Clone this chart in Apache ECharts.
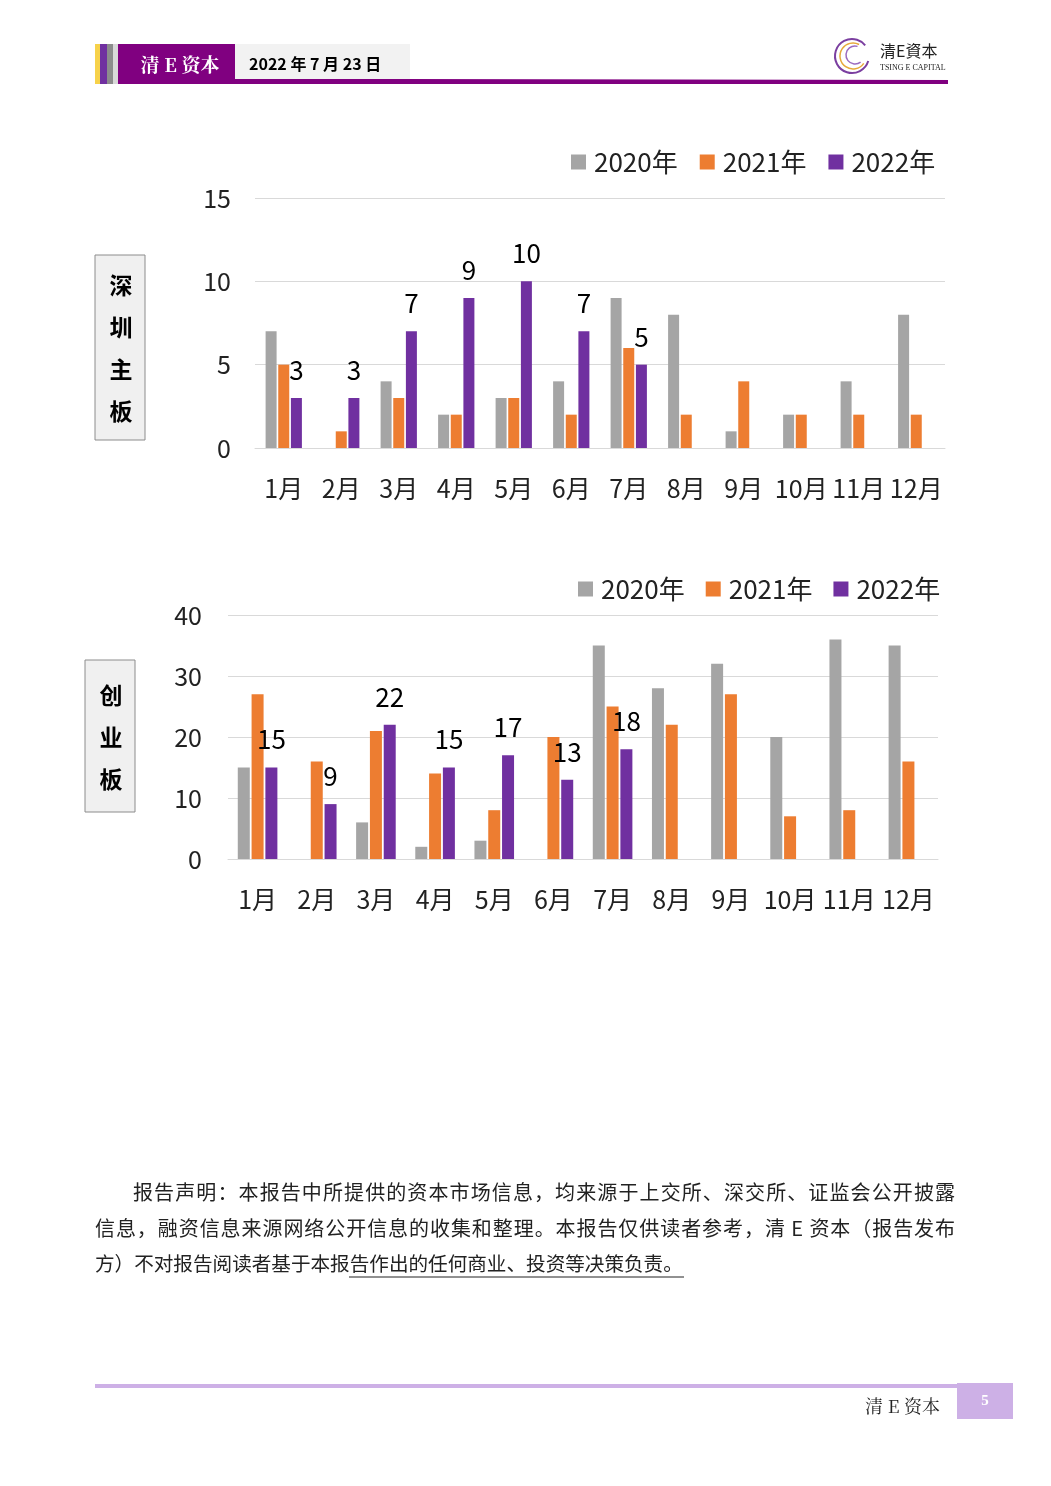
<!DOCTYPE html>
<html><head><meta charset="utf-8">
<script src="https://cdn.jsdelivr.net/npm/echarts@6/dist/echarts.min.js"></script>
<style>html,body{margin:0;padding:0;background:#fff}#c{width:1051px;height:1486px}</style>
</head><body><div id="c"></div>
<script>
const months = ['1月','2月','3月','4月','5月','6月','7月','8月','9月','10月','11月','12月'];
const seriesNames = ['2020年','2021年','2022年'];
// 深圳主板
const sz2020 = [7,0,4,2,3,4,9,8,1,2,4,8];
const sz2021 = [5,1,3,2,3,2,6,2,4,2,2,2];
const sz2022 = [3,3,7,9,10,7,5];
// 创业板
const cy2020 = [15,0,6,2,3,0,35,28,32,20,36,35];
const cy2021 = [27,16,21,14,8,20,25,22,27,7,8,16];
const cy2022 = [15,9,22,15,17,13,18];
const szTicks = {max:15, interval:5};
const cyTicks = {max:40, interval:10};

const colors = ['#a5a5a5','#ed7d31','#7030a0'];
const FONT = '"Noto Sans CJK SC","Noto Sans",sans-serif';
const axisText = {fontSize:25, color:'#222', fontFamily:FONT};

function bars(gridIdx, arrs, bw) {
  return arrs.map((d,i)=>({
    name: seriesNames[i], type:'bar', xAxisIndex:gridIdx, yAxisIndex:gridIdx,
    data:d, barWidth:bw, barGap:'15%', itemStyle:{color:colors[i]},
    label: i===2 ? {show:true, position:'top', distance:15, fontSize:26, color:'#000', fontFamily:FONT} : {show:false}
  }));
}

// justified text lines built from measured glyph widths
const measureCtx = document.createElement('canvas').getContext('2d');
function justified(text, x0, x1, y, font) {
  measureCtx.font = font;
  const chars = Array.from(text);
  const widths = chars.map(c=>measureCtx.measureText(c).width);
  const total = widths.reduce((a,b)=>a+b,0);
  const extra = (x1 - x0 - total) / (chars.length - 1);
  let x = x0;
  return chars.map((c,i)=>{
    const el = {type:'text', x:x, y:y, style:{text:c, fill:'#222', font:font, verticalAlign:'middle'}};
    x += widths[i] + extra;
    return el;
  });
}
const bodyFont = '20px "Noto Sans CJK SC",sans-serif';
const line1 = '报告声明：本报告中所提供的资本市场信息，均来源于上交所、深交所、证监会公开披露';
const line2 = '信息，融资信息来源网络公开信息的收集和整理。本报告仅供读者参考，清 E 资本（报告发布';
const line3 = '方）不对报告阅读者基于本报告作出的任何商业、投资等决策负责。';

const chart = echarts.init(document.getElementById('c'), null, {renderer:'canvas'});
const legendText = {fontSize:26, color:'#222', fontFamily:FONT, padding:[0,0,0,3]};
const option = {
  animation:false,
  color:colors,
  grid:[
    {left:255, width:690, top:198, height:250},
    {left:228, width:710, top:615, height:244}
  ],
  legend:[
    {data:seriesNames, left:566, top:144, itemWidth:15, itemHeight:15, itemGap:22, icon:'rect',
     textStyle:legendText},
    {data:seriesNames, left:573, top:571, itemWidth:15, itemHeight:15, itemGap:21, icon:'rect',
     textStyle:legendText}
  ],
  xAxis:[
    {type:'category', gridIndex:0, data:months, axisTick:{show:false},
     axisLine:{lineStyle:{color:'#d9d9d9'}}, axisLabel:Object.assign({margin:28, interval:0}, axisText)},
    {type:'category', gridIndex:1, data:months, axisTick:{show:false},
     axisLine:{lineStyle:{color:'#d9d9d9'}}, axisLabel:Object.assign({margin:28, interval:0}, axisText)}
  ],
  yAxis:[
    {type:'value', gridIndex:0, min:0, max:szTicks.max, interval:szTicks.interval,
     splitLine:{lineStyle:{color:'#d9d9d9'}}, axisLine:{show:false}, axisTick:{show:false},
     axisLabel:Object.assign({margin:24}, axisText)},
    {type:'value', gridIndex:1, min:0, max:cyTicks.max, interval:cyTicks.interval,
     splitLine:{lineStyle:{color:'#d9d9d9'}}, axisLine:{show:false}, axisTick:{show:false},
     axisLabel:Object.assign({margin:26}, axisText)}
  ],
  series:[].concat(bars(0,[sz2020,sz2021,sz2022],11), bars(1,[cy2020,cy2021,cy2022],12)),
  graphic:[
    // header strips
    {type:'rect', shape:{x:95,y:44,width:5,height:40}, style:{fill:'#f7d24a'}},
    {type:'rect', shape:{x:100,y:44,width:7,height:40}, style:{fill:'#7030a0'}},
    {type:'rect', shape:{x:107,y:44,width:6,height:40}, style:{fill:'#8c8c8c'}},
    {type:'rect', shape:{x:113,y:44,width:5,height:40}, style:{fill:'#d9d9d9'}},
    {type:'rect', shape:{x:118,y:44,width:117,height:40}, style:{fill:'#800080'}},
    {type:'rect', shape:{x:235,y:44,width:175,height:35}, style:{fill:'#f2f2f2'}},
    {type:'polygon', shape:{points:[[235,79],[410,79],[948,80],[948,84],[235,84]]}, style:{fill:'#800080'}},
    {type:'text', x:180, y:65, style:{text:'清 E 资本', fill:'#fff', font:'bold 19px "Noto Serif CJK SC","Noto Sans CJK SC",serif', align:'center', verticalAlign:'middle'}},
    {type:'text', x:249, y:64, style:{text:'2022 年 7 月 23 日', fill:'#000', font:'bold 16px "Noto Sans CJK SC",sans-serif', align:'left', verticalAlign:'middle'}},
    // logo
    {type:'arc', shape:{cx:852,cy:56,r:17,startAngle:0.3,endAngle:5.6}, style:{stroke:'#7b3fa0',lineWidth:2,fill:null}},
    {type:'arc', shape:{cx:853,cy:56,r:13,startAngle:0.6,endAngle:5.2}, style:{stroke:'#e6a93a',lineWidth:1.5,fill:null}},
    {type:'arc', shape:{cx:855,cy:55,r:9,startAngle:0.9,endAngle:5.0}, style:{stroke:'#9b6bc0',lineWidth:1.5,fill:null}},
    {type:'text', x:880, y:51, style:{text:'清E資本', fill:'#222', font:'16px "Noto Sans CJK SC",sans-serif', align:'left', verticalAlign:'middle'}},
    {type:'text', x:880, y:68, style:{text:'TSING E CAPITAL', fill:'#222', font:'8px "Liberation Serif",serif', align:'left', verticalAlign:'middle'}},
    // side labels
    {type:'rect', shape:{x:95,y:255,width:50,height:185}, style:{fill:'#f0f0f0', stroke:'#8c8c8c', lineWidth:1}},
    {type:'text', x:121, y:348, style:{text:'深\n\n圳\n\n主\n\n板', fill:'#000', font:'bold 23px "Noto Sans CJK SC",sans-serif', lineHeight:21, align:'center', verticalAlign:'middle'}},
    {type:'rect', shape:{x:85,y:660,width:50,height:152}, style:{fill:'#f0f0f0', stroke:'#8c8c8c', lineWidth:1}},
    {type:'text', x:111, y:737, style:{text:'创\n\n业\n\n板', fill:'#000', font:'bold 23px "Noto Sans CJK SC",sans-serif', lineHeight:21, align:'center', verticalAlign:'middle'}}
  ]
  .concat(justified(line1, 133, 955, 1192, bodyFont))
  .concat(justified(line2, 95, 955, 1228, bodyFont))
  .concat([
    {type:'text', x:95, y:1264, style:{text:line3, fill:'#222', font:'19.6px "Noto Sans CJK SC",sans-serif', verticalAlign:'middle'}},
    {type:'line', shape:{x1:349,y1:1277,x2:684,y2:1277}, style:{stroke:'#222', lineWidth:1}},
    // footer
    {type:'rect', shape:{x:95,y:1384,width:862,height:4}, style:{fill:'#cdb0e6'}},
    {type:'rect', shape:{x:957,y:1383,width:56,height:36}, style:{fill:'#cdb0e6'}},
    {type:'text', x:985, y:1401, style:{text:'5', fill:'#fff', font:'bold 15px "Liberation Serif",serif', align:'center', verticalAlign:'middle'}},
    {type:'text', x:940, y:1406, style:{text:'清 E 资本', fill:'#222', font:'18px "Noto Serif CJK SC","Noto Sans CJK SC",serif', align:'right', verticalAlign:'middle'}}
  ])
};
chart.setOption(option);
</script></body></html>
